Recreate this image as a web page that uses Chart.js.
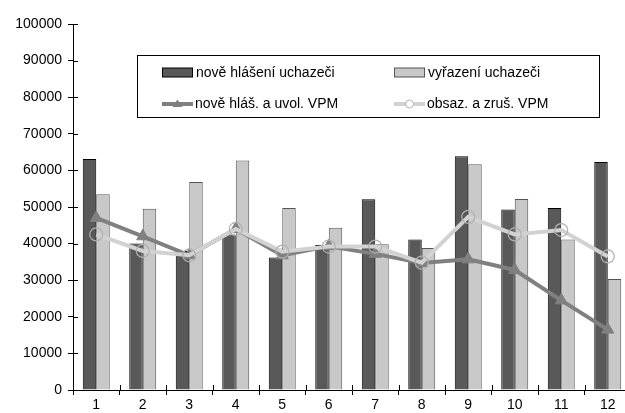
<!DOCTYPE html>
<html>
<head>
<meta charset="utf-8">
<script src="https://cdn.jsdelivr.net/npm/chart.js@4.4.1/dist/chart.umd.min.js"></script>
<style>
  html, body { margin: 0; padding: 0; background: #fff; overflow: hidden; }
  #wrap { position: relative; width: 639px; height: 413px; }
</style>
</head>
<body>
<div id="wrap"><canvas id="c" width="639" height="413"></canvas></div>
<script>
const categories = ['1','2','3','4','5','6','7','8','9','10','11','12'];
const noveHlaseni = [63100, 40000, 38000, 42500, 36200, 39600, 52100, 41100, 63900, 49300, 49700, 62300];
const vyrazeni   = [53500, 49500, 56800, 62700, 49700, 44300, 39800, 38800, 61700, 52200, 41100, 30300];
const noveVPM    = [47000, 42000, 36800, 44000, 36800, 39300, 37200, 34700, 35700, 32800, 24500, 16500];
const obsazVPM   = [42500, 38000, 36800, 44000, 37800, 39200, 39200, 34800, 47300, 42500, 43700, 36500];
const yTicks = [0, 10000, 20000, 30000, 40000, 50000, 60000, 70000, 80000, 90000, 100000];

const FONT = '"Liberation Sans", Arial, sans-serif';
const DARK = '#595959', LIGHT = '#c8c8c8', MID = '#808080', PALE = '#d2d2d2';

const legendPlugin = {
  id: 'boxLegend',
  afterDraw(chart) {
    const ctx = chart.ctx;
    const ds = chart.data.datasets;
    ctx.save();
    ctx.fillStyle = '#fff';
    ctx.fillRect(137.5, 55.5, 462, 62);
    ctx.strokeStyle = '#000';
    ctx.lineWidth = 1;
    ctx.strokeRect(137.5, 55.5, 462, 62);
    ctx.font = '14px ' + FONT;
    ctx.textBaseline = 'middle';
    ctx.fillStyle = '#000';
    const cols = [162, 394];
    const rows = [72.5, 104];
    [0, 1].forEach(i => {
      const x = cols[i], y = rows[0];
      ctx.fillStyle = ds[i].backgroundColor;
      ctx.fillRect(x + 0.5, y - 4.5, 30, 9);
      ctx.strokeStyle = ds[i].borderColor;
      ctx.lineWidth = 1;
      ctx.strokeRect(x + 0.5, y - 4.5, 30, 9);
      ctx.fillStyle = '#000';
      ctx.fillText(ds[i].label, x + 34, y + 0.5);
    });
    [2, 3].forEach((i, k) => {
      const x = cols[k], y = rows[1];
      ctx.strokeStyle = ds[i].borderColor;
      ctx.lineWidth = 4;
      ctx.beginPath(); ctx.moveTo(x, y); ctx.lineTo(x + 31, y); ctx.stroke();
      const cx = x + 15.5;
      if (i === 2) {
        ctx.fillStyle = MID;
        ctx.beginPath();
        ctx.moveTo(cx, y - 4.5); ctx.lineTo(cx + 5, y + 3); ctx.lineTo(cx - 5, y + 3); ctx.closePath();
        ctx.fill();
      } else {
        ctx.fillStyle = '#fff';
        ctx.strokeStyle = '#b4b4b4';
        ctx.lineWidth = 1;
        ctx.beginPath(); ctx.arc(cx, y, 4, 0, Math.PI * 2); ctx.fill(); ctx.stroke();
      }
      ctx.fillStyle = '#000';
      ctx.fillText(ds[i].label, x + 33, y + 0.5);
    });
    const xs = chart.scales.x, ys = chart.scales.y;
    ctx.strokeStyle = '#000';
    ctx.lineWidth = 1;
    ctx.beginPath();
    ys.ticks.forEach((t, idx) => {
      const py = Math.round(ys.getPixelForTick(idx)) + 0.5;
      ctx.moveTo(xs.left, py); ctx.lineTo(xs.left + 5, py);
    });
    for (let i = 0; i <= categories.length; i++) {
      const px = Math.round(xs.left + i * (xs.width / categories.length)) + 0.5;
      ctx.moveTo(px, ys.bottom); ctx.lineTo(px, ys.bottom - 5);
    }
    ctx.stroke();
    ctx.restore();
  }
};

new Chart(document.getElementById('c'), {
  type: 'bar',
  data: {
    labels: categories,
    datasets: [
      { type: 'bar', label: 'nově hlášení uchazeči', data: noveHlaseni,
        backgroundColor: DARK, borderColor: '#000', borderWidth: 1,
        categoryPercentage: 0.58, barPercentage: 1.0, order: 9 },
      { type: 'bar', label: 'vyřazení uchazeči', data: vyrazeni,
        backgroundColor: LIGHT, borderColor: '#555', borderWidth: 1,
        categoryPercentage: 0.58, barPercentage: 1.0, order: 10 },
      { type: 'line', label: 'nově hláš. a uvol. VPM', data: noveVPM,
        borderColor: MID, borderWidth: 4, backgroundColor: MID,
        pointStyle: 'triangle', pointRadius: 7, pointBackgroundColor: MID,
        pointBorderColor: MID, pointBorderWidth: 1, tension: 0, order: 2 },
      { type: 'line', label: 'obsaz. a zruš. VPM', data: obsazVPM,
        borderColor: PALE, borderWidth: 4, backgroundColor: PALE,
        pointStyle: 'circle', pointRadius: 6.5, pointBackgroundColor: 'rgba(0,0,0,0)',
        pointBorderColor: '#b0b0b0', pointBorderWidth: 1.2, tension: 0, order: 1 }
    ]
  },
  options: {
    responsive: false,
    animation: false,
    layout: { padding: { top: 24, right: 0, left: 0, bottom: 0 } },
    plugins: { legend: { display: false }, tooltip: { enabled: false } },
    scales: {
      x: {
        offset: true,
        grid: { display: true, offset: true, drawOnChartArea: false, drawTicks: true, tickLength: 5, color: '#000' },
        border: { display: true, color: '#000', width: 1 },
        ticks: { color: '#000', font: { family: FONT, size: 14 }, padding: 2, maxRotation: 0 },
        afterFit(s) { s.height = 23; }
      },
      y: {
        min: 0, max: 100000,
        afterBuildTicks(s) { s.ticks = yTicks.map(v => ({ value: v })); },
        grid: { display: true, drawOnChartArea: false, drawTicks: true, tickLength: 5, color: '#000' },
        border: { display: true, color: '#000', width: 1 },
        ticks: { color: '#000', font: { family: FONT, size: 14 }, padding: 6,
                 callback: v => String(v) },
        afterFit(s) { s.width = 73; }
      }
    }
  },
  plugins: [legendPlugin]
});
</script>
</body>
</html>
